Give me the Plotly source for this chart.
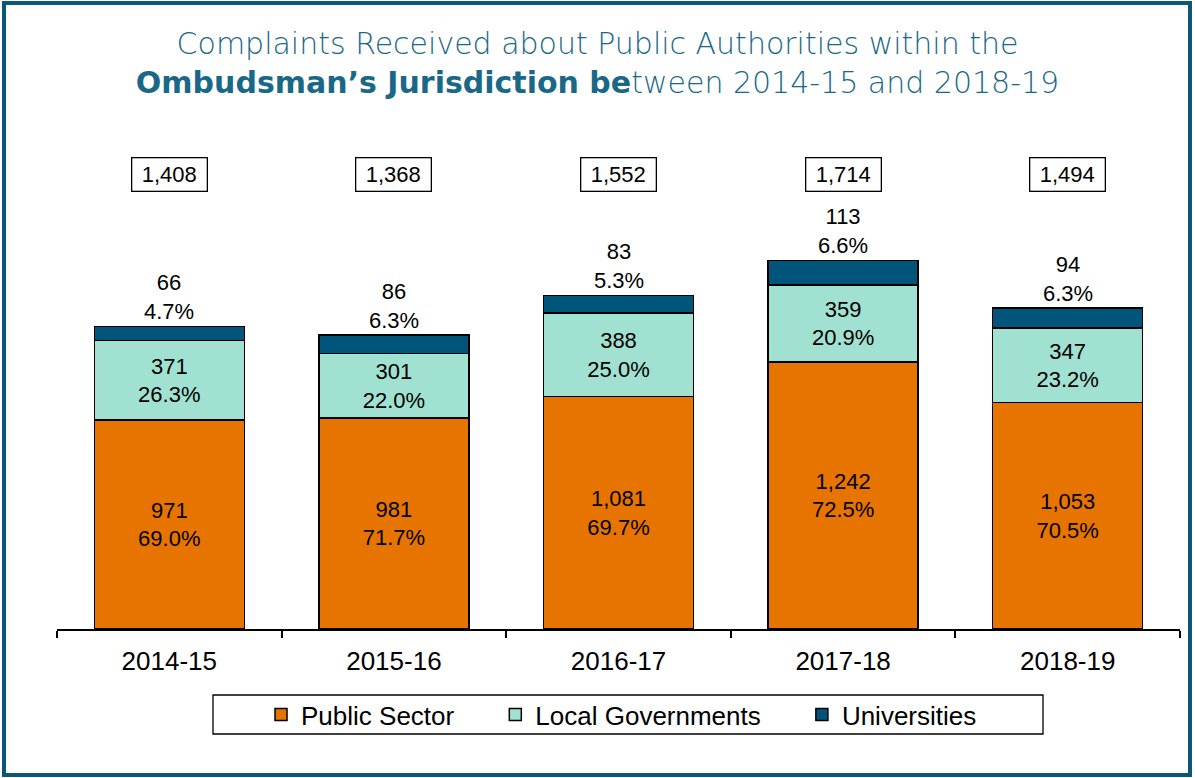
import plotly.graph_objects as go

# data
years = ["2014-15", "2015-16", "2016-17", "2017-18", "2018-19"]
public_sector = [971, 981, 1081, 1242, 1053]
local_gov = [371, 301, 388, 359, 347]
universities = [66, 86, 83, 113, 94]
totals = [1408, 1368, 1552, 1714, 1494]
public_pct = ["69.0%", "71.7%", "69.7%", "72.5%", "70.5%"]
local_pct = ["26.3%", "22.0%", "25.0%", "20.9%", "23.2%"]
univ_pct = ["4.7%", "6.3%", "5.3%", "6.6%", "6.3%"]

ORANGE = "#E87400"
MINT = "#A0E1D1"
NAVY = "#02557A"
FRAME = "#0B5777"

W, H = 1195, 778
ML, MR, MT, MB = 57, 15, 156, 149
PW = W - ML - MR
PH = H - MT - MB


def px_x(px):
    return (px - ML) / PW


def px_y(py):
    return (H - MB - py) / PH


lbl_font = dict(family="Arial", size=22, color="black")
outline = dict(color="black", width=1.5)
pad = "\u00a0"

fig = go.Figure()
fig.add_trace(go.Bar(
    x=years, y=public_sector, name="Public Sector" + pad * 5,
    marker=dict(color=ORANGE, line=outline),
    text=[f"{v:,}<br>{p}" for v, p in zip(public_sector, public_pct)],
    textposition="inside", insidetextanchor="middle", textangle=0,
    textfont=lbl_font, constraintext="none",
))
fig.add_trace(go.Bar(
    x=years, y=local_gov, name="Local Governments" + pad * 5,
    marker=dict(color=MINT, line=outline),
    text=[f"{v:,}<br>{p}" for v, p in zip(local_gov, local_pct)],
    textposition="inside", insidetextanchor="middle", textangle=0,
    textfont=lbl_font, constraintext="none",
))
fig.add_trace(go.Bar(
    x=years, y=universities, name="Universities",
    marker=dict(color=NAVY, line=outline),
    textposition="none",
))

# labels above the stacks
for i, yr in enumerate(years):
    fig.add_annotation(
        x=yr, y=totals[i], yanchor="bottom", showarrow=False,
        text=f"{universities[i]}<br>{univ_pct[i]}", font=lbl_font,
    )
    fig.add_annotation(
        x=yr, yref="paper", y=px_y(174), yanchor="middle", showarrow=False,
        text=f"{totals[i]:,}", font=lbl_font,
        bordercolor="black", borderwidth=1.3, borderpad=3,
        width=68, height=26, bgcolor="white",
    )

# legend box and outer frame
fig.add_shape(type="rect", xref="paper", yref="paper",
              x0=px_x(213), x1=px_x(1043), y0=px_y(734), y1=px_y(695),
              line=dict(color="black", width=1.3), layer="below")
fig.add_shape(type="rect", xref="paper", yref="paper",
              x0=px_x(4), x1=px_x(1190), y0=px_y(775), y1=px_y(3),
              line=dict(color=FRAME, width=4))

fig.update_layout(
    width=W, height=H,
    margin=dict(l=ML, r=MR, t=MT, b=MB, autoexpand=False),
    barmode="stack", bargap=0.332,
    paper_bgcolor="white", plot_bgcolor="white",
    title=dict(
        text="Complaints Received about Public Authorities within the<br>"
             "<b>Ombudsman\u2019s Jurisdiction be</b>tween 2014-15 and 2018-19",
        x=0.5, xref="container", xanchor="center",
        y=1 - 54 / H, yref="container", yanchor="middle",
        font=dict(family="DejaVu Sans", size=30, color="#1A6888", weight=200),
    ),
    xaxis=dict(
        showline=True, linecolor="black", linewidth=1.5,
        ticks="outside", tickson="boundaries", ticklen=7,
        tickcolor="black", tickwidth=1.5, tickangle=0,
        ticklabelstandoff=8,
        tickfont=dict(family="Arial", size=26, color="black"),
        showgrid=False,
    ),
    yaxis=dict(range=[0, 2200], visible=False, showgrid=False),
    showlegend=True,
    legend=dict(
        orientation="h", x=px_x(261), xanchor="left",
        y=px_y(714.5), yanchor="middle",
        font=dict(family="Arial", size=26, color="black"),
        bgcolor="rgba(0,0,0,0)", traceorder="normal",
    ),
)

fig.write_html("out.html", config={"displayModeBar": False},
               post_script="document.body.style.margin='0';")
